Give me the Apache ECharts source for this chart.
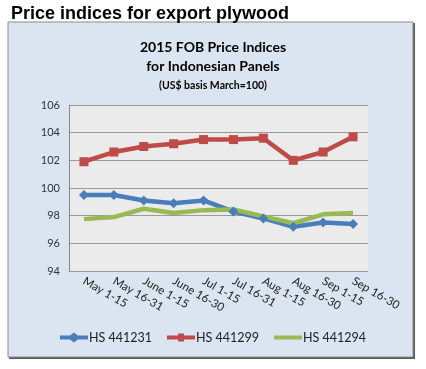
<!DOCTYPE html>
<html><head><meta charset="utf-8">
<script src="https://cdn.jsdelivr.net/npm/echarts@6/dist/echarts.min.js"></script>
<style>html,body{margin:0;padding:0;background:#fff}#c{width:426px;height:369px}</style>
</head><body><div id="c"></div>
<script>
const categories = ['May 1-15','May 16-31','June 1-15','June 16-30','Jul 1-15','Jul 16-31','Aug 1-15','Aug 16-30','Sep 1-15','Sep 16-30'];
const hs441231 = [99.5, 99.5, 99.1, 98.9, 99.1, 98.3, 97.8, 97.2, 97.5, 97.4];
const hs441299 = [101.9, 102.6, 103.0, 103.2, 103.5, 103.5, 103.6, 102.0, 102.6, 103.7];
const hs441294 = [97.75, 97.9, 98.5, 98.2, 98.4, 98.45, 97.95, 97.45, 98.1, 98.2];
const yTicks = [94, 96, 98, 100, 102, 104, 106];

const chart = echarts.init(document.getElementById('c'), null, {renderer:'canvas'});
const font = 'Lato, "Open Sans", sans-serif';
const iconDiamond = 'path://M0,3 L10,3 L14,0 L18,3 L28,3 L28,7 L18,7 L14,10 L10,7 L0,7 Z';
const iconSquare = 'path://M0,3 L11,3 L11,1 L17,1 L17,3 L28,3 L28,7 L17,7 L17,9 L11,9 L11,7 L0,7 Z';
const iconLine = 'path://M0,3 L28,3 L28,7 L0,7 Z M0,0 L0.01,0 Z M0,10 L0.01,10 Z';
chart.setOption({
  animation:false,
  backgroundColor:'#ffffff',
  graphic:[
    {type:'rect', shape:{x:9,y:23,width:406,height:336}, style:{fill:'#5a5a5a'}, z:-10},
    {type:'rect', shape:{x:8,y:22,width:405,height:335}, style:{fill:'#dbe5f1', stroke:'#8c8c8c', lineWidth:1}, z:-9}
  ],
  title:[
    {text:'Price indices for export plywood', left:6, top:0,
     textStyle:{fontFamily:'"Liberation Sans", Arial, sans-serif', fontWeight:'bold', fontSize:18, color:'#000'}},
    {text:'2015 FOB Price Indices', left:'center', top:35,
     textStyle:{fontFamily:font, fontWeight:'bold', fontSize:14, color:'#000'}},
    {text:'for Indonesian Panels', left:'center', top:54,
     textStyle:{fontFamily:font, fontWeight:'bold', fontSize:14, color:'#000'}},
    {text:'(US$ basis March=100)', left:'center', top:75,
     textStyle:{fontFamily:font, fontWeight:'bold', fontSize:10.5, color:'#000'}}
  ],
  grid:{left:69, right:58, top:105, bottom:98, show:true, backgroundColor:'#ebebeb', borderWidth:0, containLabel:false},
  xAxis:{type:'category', data:categories, boundaryGap:true,
    axisLine:{show:false}, axisTick:{show:false},
    axisLabel:{rotate:-30, interval:0, margin:9, align:'left', verticalAlign:'middle',
      overflow:'none', hideOverlap:false,
      fontFamily:font, fontSize:11.5, color:'#222'}},
  yAxis:{type:'value', min:94, max:106, interval:2,
    axisLine:{show:true, lineStyle:{color:'#888'}}, axisTick:{show:false},
    splitLine:{lineStyle:{color:'#9a9a9a', width:1}},
    axisLabel:{fontFamily:font, fontSize:11, color:'#333', margin:9,
      formatter:v => yTicks.includes(v) ? String(v) : ''}},
  legend:{bottom:20, left:'center', itemGap:15, itemWidth:28, itemHeight:10,
    textStyle:{fontFamily:font, fontSize:12.5, color:'#222', padding:[0,0,0,-4]},
    data:[{name:'HS 441231', icon:iconDiamond},{name:'HS 441299', icon:iconSquare},{name:'HS 441294', icon:iconLine}]},
  series:[
    {name:'HS 441231', type:'line', data:hs441231, color:'#4a7ebb', lineStyle:{width:4.5, color:'#4a7ebb'},
     symbol:'diamond', symbolSize:10, itemStyle:{color:'#4a7ebb'}},
    {name:'HS 441299', type:'line', data:hs441299, color:'#be4b48', lineStyle:{width:4.5, color:'#be4b48'},
     symbol:'rect', symbolSize:9, itemStyle:{color:'#be4b48'}},
    {name:'HS 441294', type:'line', data:hs441294, color:'#98b954', lineStyle:{width:4.5, color:'#98b954'},
     symbol:'none', itemStyle:{color:'#98b954'}}
  ]
});
</script></body></html>
